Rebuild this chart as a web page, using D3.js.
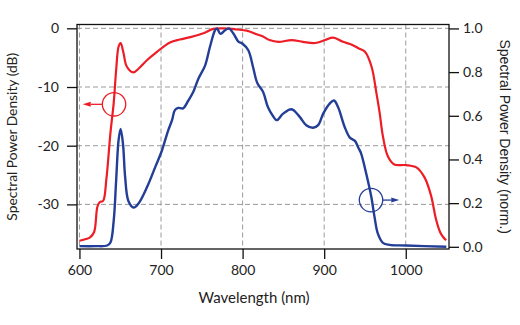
<!DOCTYPE html>
<html><head><meta charset="utf-8">
<script src="https://cdn.jsdelivr.net/npm/d3@7"></script>
<style>
html,body{margin:0;padding:0;background:#fff;}
svg{display:block;}
</style></head>
<body>
<svg id="chart" width="520" height="325"></svg>
<script>
// ---- data ----
const redWavelength = [600,608,613,618,622,625,629,633,638,642,645,648,650.5,654,658,666,673,683,695,711,723,736,752,764,776,793,805,817,825,833,844,860,874,889,901,911,923,934,942,950,958,964,968,972,978,986,1000,1013,1023,1031,1037,1042,1046,1049.5];
const redDb = [-36.2,-35.9,-35.6,-34.7,-30.4,-29.6,-29.4,-25.7,-17.8,-12.7,-7.1,-3.1,-2.5,-4.2,-6.5,-7.5,-6.8,-5.4,-4.0,-2.4,-1.9,-1.5,-0.85,-0.1,0,-0.2,-0.4,-1.0,-1.4,-2.0,-2.3,-2.0,-2.3,-2.5,-2.0,-1.6,-2.3,-2.8,-3.4,-4.0,-6.5,-11,-14.4,-18.4,-21.8,-23.2,-23.3,-23.7,-25.4,-28.5,-32.5,-34.7,-35.6,-36.1];

const blueWavelength = [600,620,634,638,642,645,648,650.5,653.4,656,660,666.5,672.6,683,693,701,708.5,713.5,717,721,727,733.5,739.6,745.8,754,760,766,768.5,773,778,783,788.7,794.8,800,807,813,818,825,831,837,842,849.7,860,870,878,886.5,892.6,898.8,907,912,917,925,931.5,937.7,941.7,945,951.5,957.7,961.7,965.8,972,980,1000,1049.7];
const blueNorm = [0.003,0.003,0.006,0.02,0.12,0.305,0.49,0.54,0.47,0.32,0.21,0.18,0.2,0.275,0.366,0.44,0.53,0.58,0.626,0.636,0.634,0.67,0.71,0.77,0.83,0.916,0.99,1.0,0.975,0.99,1.0,0.977,0.94,0.93,0.90,0.82,0.75,0.71,0.64,0.60,0.58,0.61,0.63,0.595,0.557,0.545,0.557,0.61,0.657,0.67,0.64,0.55,0.50,0.485,0.455,0.43,0.336,0.23,0.137,0.06,0.018,0.009,0.006,0.0];

const xTicks = [600,700,800,900,1000];
const leftTicks = [0,-10,-20,-30];
const rightTicks = [0.0,0.2,0.4,0.6,0.8,1.0];

// annotation anchors (data coordinates)
const redMarker = {w:642.4, v:-12.95, arrowTo:604};
const blueMarker = {w:957.4, v:0.214, arrowTo:992};

// ---- layout ----
const L=77, R=449, T=24.5, B=249;
const RED="#ee1c25", BLUE="#233e96", GRID="#9a9a9a";
const svg = d3.select("#chart");

const x = d3.scaleLinear().domain([597,1053]).range([L,R]);
const yL = d3.scaleLinear().domain([-37.6,0.65]).range([B,T]);
const yR = d3.scaleLinear().domain([-0.01,1.018]).range([B,T]);

// grid
const g = svg.append("g");
g.selectAll("line.vg").data(xTicks).join("line")
  .attr("x1",d=>x(d)).attr("x2",d=>x(d)).attr("y1",T).attr("y2",B)
  .attr("stroke",GRID).attr("stroke-width",1).attr("stroke-dasharray","5,3");
g.selectAll("line.hg").data(leftTicks).join("line")
  .attr("x1",L).attr("x2",R).attr("y1",d=>yL(d)).attr("y2",d=>yL(d))
  .attr("stroke",GRID).attr("stroke-width",1).attr("stroke-dasharray","5,3");

// curves
const redLine = d3.line().x((d,i)=>x(redWavelength[i])).y(d=>yL(d)).curve(d3.curveCatmullRom.alpha(0.5));
const blueLine = d3.line().x((d,i)=>x(blueWavelength[i])).y(d=>yR(d)).curve(d3.curveCatmullRom.alpha(0.5));
svg.append("path").attr("d",redLine(redDb)).attr("fill","none").attr("stroke",RED).attr("stroke-width",2.2).attr("stroke-linejoin","round");
svg.append("path").attr("d",blueLine(blueNorm)).attr("fill","none").attr("stroke",BLUE).attr("stroke-width",2.4).attr("stroke-linejoin","round");

// frame
svg.append("rect").attr("x",L).attr("y",T).attr("width",R-L).attr("height",B-T)
  .attr("fill","none").attr("stroke","#111").attr("stroke-width",1.3);

// axes
const fontTick = "Lato, 'Open Sans', sans-serif";
const ax = svg.append("g").attr("transform",`translate(0,${B})`)
  .call(d3.axisBottom(x).tickValues(xTicks).tickSize(10).tickPadding(6).tickFormat(d=>String(d)));
const ayl = svg.append("g").attr("transform",`translate(${L},0)`)
  .call(d3.axisLeft(yL).tickValues(leftTicks).tickSize(10).tickPadding(8).tickFormat(d=>String(d)));
const ayr = svg.append("g").attr("transform",`translate(${R},0)`)
  .call(d3.axisRight(yR).tickValues(rightTicks).tickSize(10).tickPadding(4).tickFormat(d=>d.toFixed(1)));
[ax,ayl,ayr].forEach(a=>{
  a.select(".domain").remove();
  a.selectAll(".tick line").attr("stroke","#111").attr("stroke-width",1.3);
  a.selectAll("text").attr("font-family",fontTick).attr("font-size",14).attr("fill","#222");
});

// axis titles
svg.append("text").attr("x",(L+R)/2-9).attr("y",303).attr("text-anchor","middle")
  .attr("font-family",fontTick).attr("font-size",15).attr("fill","#222").text("Wavelength (nm)");
svg.append("text").attr("transform",`translate(17,${(T+B)/2}) rotate(-90)`).attr("text-anchor","middle")
  .attr("font-family",fontTick).attr("font-size",13.8).attr("fill","#222").text("Spectral Power Density (dB)");
svg.append("text").attr("transform",`translate(500,${(T+B)/2}) rotate(90)`).attr("text-anchor","middle")
  .attr("font-family","'Liberation Sans', Arial, sans-serif").attr("font-size",14).attr("fill","#222").text("Spectral Power Density (norm.)");

// annotations: circles with arrows
function marker(cx, cy, r, tipX, color){
  svg.append("circle").attr("cx",cx).attr("cy",cy).attr("r",r).attr("fill","none").attr("stroke",color).attr("stroke-width",1.3);
  const dir = tipX < cx ? -1 : 1;
  const startX = cx + dir*r;
  const headLen = 8;
  svg.append("line").attr("x1",startX).attr("x2",tipX - dir*headLen).attr("y1",cy).attr("y2",cy)
    .attr("stroke",color).attr("stroke-width",1.3);
  svg.append("path").attr("d",`M${tipX},${cy} L${tipX-dir*headLen},${cy-2.5} L${tipX-dir*headLen},${cy+2.5} Z`).attr("fill",color);
}
marker(x(redMarker.w), yL(redMarker.v), 11.7, x(redMarker.arrowTo), RED);
marker(x(blueMarker.w), yR(blueMarker.v), 11.7, x(blueMarker.arrowTo), BLUE);
</script>
</body></html>
